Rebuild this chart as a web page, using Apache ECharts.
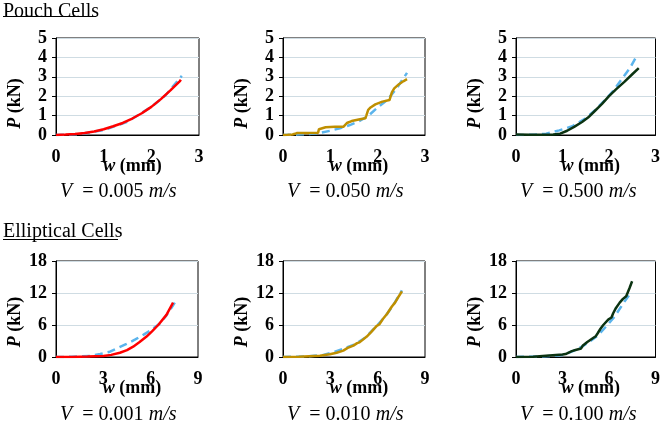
<!DOCTYPE html>
<html><head><meta charset="utf-8">
<script src="https://cdn.jsdelivr.net/npm/echarts@6/dist/echarts.min.js"></script>
<style>html,body{margin:0;padding:0;background:#fff}#c{width:663px;height:425px}</style>
</head><body><div id="c"></div>
<script>
// ---- data ----
const pouchXTicks = [0, 1, 2, 3];
const pouchYTicks = [0, 1, 2, 3, 4, 5];
const ellXTicks = [0, 3, 6, 9];
const ellYTicks = [0, 6, 12, 18];
const sectionTitles = ['Pouch Cells', 'Elliptical Cells'];
const velocities = ['0.005', '0.050', '0.500', '0.001', '0.010', '0.100'];

const expPouch1 = [[0,0],[0.2,0.02],[0.4,0.05],[0.6,0.1],[0.8,0.18],[1.0,0.3],[1.2,0.45],[1.4,0.62],[1.6,0.85],[1.8,1.12],[2.0,1.45],[2.2,1.85],[2.4,2.3],[2.6,2.78],[2.62,2.85]];
const modPouch1 = [[0,0],[0.5,0.05],[1.0,0.25],[1.5,0.68],[2.0,1.45],[2.3,2.05],[2.64,3.05]];
const expPouch2 = [[0,0],[0.1,0.01],[0.2,0.03],[0.25,0.06],[0.3,0.1],[0.5,0.1],[0.74,0.11],[0.76,0.3],[0.8,0.36],[0.9,0.4],[1.1,0.42],[1.28,0.43],[1.3,0.5],[1.35,0.62],[1.45,0.72],[1.6,0.8],[1.74,0.86],[1.76,1.0],[1.8,1.3],[1.85,1.42],[1.95,1.58],[2.1,1.72],[2.25,1.8],[2.28,1.85],[2.3,2.2],[2.35,2.4],[2.45,2.62],[2.55,2.78],[2.62,2.88]];
const modPouch2 = [[0,0],[0.3,0.02],[0.6,0.06],[0.8,0.12],[1.0,0.22],[1.2,0.35],[1.4,0.5],[1.6,0.7],[1.8,0.98],[2.0,1.42],[2.2,1.8],[2.4,2.4],[2.62,3.2]];
const expPouch3 = [[0,0.02],[0.3,0.01],[0.6,0.01],[0.8,0.02],[0.95,0.07],[1.1,0.22],[1.25,0.42],[1.42,0.67],[1.55,0.9],[1.7,1.25],[1.85,1.6],[2.0,2.0],[2.15,2.35],[2.33,2.74],[2.5,3.13],[2.64,3.45]];
const modPouch3 = [[0,0],[0.4,0.01],[0.65,0.07],[0.93,0.24],[1.21,0.45],[1.49,0.84],[1.7,1.28],[1.91,1.79],[2.1,2.3],[2.26,2.83],[2.45,3.45],[2.59,4.05]];
const expEll1 = [[0,0],[1,0.02],[2,0.08],[3,0.2],[3.5,0.4],[4.05,0.8],[4.5,1.3],[4.89,1.94],[5.3,2.8],[5.74,3.83],[6.1,4.85],[6.48,6.0],[7.0,7.9],[7.42,10.2]];
const modEll1 = [[0,0],[1,0.03],[2.15,0.19],[2.8,0.55],[3.42,1.0],[4.0,1.8],[4.47,2.45],[5.0,3.25],[5.53,4.14],[6.0,5.0],[6.58,6.3],[7.0,7.8],[7.53,10.2]];
const expEll2 = [[0,0],[1,0.05],[2.34,0.25],[2.97,0.5],[3.4,0.8],[3.82,1.2],[4.1,1.7],[4.46,2.13],[4.7,2.6],[4.85,2.75],[4.99,3.07],[5.31,3.83],[5.6,4.7],[5.94,5.83],[6.1,6.1],[6.37,7.28],[6.6,8.1],[6.9,9.47],[7.1,10.2],[7.3,11.2],[7.54,12.3]];
const modEll2 = [[0,0],[1.5,0.1],[2.5,0.35],[3.29,1.0],[3.8,1.5],[4.5,2.3],[5.2,3.6],[5.9,5.7],[6.5,7.7],[7.0,9.8],[7.54,12.5]];
const expEll3 = [[0,0],[1.1,0.06],[2.15,0.3],[3.0,0.45],[3.2,0.55],[3.3,0.8],[3.6,1.1],[3.84,1.3],[4.2,1.6],[4.3,2.1],[4.6,2.8],[5.0,3.6],[5.15,3.9],[5.27,4.45],[5.45,5.3],[5.63,6.0],[5.95,7.0],[6.16,7.4],[6.27,8.2],[6.45,9.2],[6.69,10.2],[6.9,10.9],[7.11,11.4],[7.2,11.5],[7.32,12.9],[7.49,14.2]];
const modEll3 = [[0,0],[1.5,0.08],[2.5,0.25],[3.0,0.38],[3.6,1.0],[4.26,1.94],[4.8,3.0],[5.32,4.14],[5.9,6.0],[6.37,7.6],[7.0,10.4],[7.32,11.7]];

// ---- layout & style ----
const expColors = ['#FF0000', '#BF8F00', '#0B3311', '#FF0000', '#BF8F00', '#0B3311'];
const modColor = '#5BB4EC';
const grids = [
  {left:56, top:38, width:143, height:97},
  {left:283, top:38, width:142, height:97},
  {left:516, top:38, width:141, height:97},
  {left:56, top:261, width:142, height:96},
  {left:283, top:261, width:142, height:96},
  {left:516, top:261, width:141, height:96}
];
const expData = [expPouch1, expPouch2, expPouch3, expEll1, expEll2, expEll3];
const modData = [modPouch1, modPouch2, modPouch3, modEll1, modEll2, modEll3];
const serif = 'Liberation Serif';

const xAxes = [], yAxes = [], series = [], graphics = [];
grids.forEach((g, i) => {
  const pouch = i < 3;
  const xt = pouch ? pouchXTicks : ellXTicks;
  const yt = pouch ? pouchYTicks : ellYTicks;
  xAxes.push({
    gridIndex: i, type: 'value', min: xt[0], max: xt[xt.length-1], interval: xt[1]-xt[0],
    axisLine: {show: true, lineStyle: {color: '#000', width: 1}},
    axisTick: {show: false}, splitLine: {show: false},
    axisLabel: {margin: 13, fontFamily: serif, fontWeight: 'bold', fontSize: 18, color: '#000'},
    name: '{i|w} (mm)', nameLocation: 'middle', nameGap: 22, nameMoveOverlap: false,
    nameTextStyle: {fontFamily: serif, fontWeight: 'bold', fontSize: 18, color: '#000', padding: [0,0,0,10],
      rich: {i: {fontFamily: serif, fontWeight: 'bold', fontStyle: 'italic', fontSize: 18, color: '#000'}}}
  });
  yAxes.push({
    gridIndex: i, type: 'value', min: yt[0], max: yt[yt.length-1], interval: yt[1]-yt[0],
    axisLine: {show: true, lineStyle: {color: '#000', width: 1}},
    axisTick: {show: true, inside: false, length: 4, lineStyle: {color: '#000'}},
    splitLine: {show: true, lineStyle: {color: '#CFDCE3', width: 1}},
    axisLabel: {margin: 9, fontFamily: serif, fontWeight: 'bold', fontSize: 18, color: '#000'},
    name: '{i|P} (kN)', nameLocation: 'middle', nameGap: 32, nameRotate: 90, nameMoveOverlap: false,
    nameTextStyle: {fontFamily: serif, fontWeight: 'bold', fontSize: 18, color: '#000', padding: [0, pouch ? 34 : 26, 0, 0],
      rich: {i: {fontFamily: serif, fontWeight: 'bold', fontStyle: 'italic', fontSize: 18, color: '#000'}}}
  });
  series.push({
    type: 'line', xAxisIndex: i, yAxisIndex: i, data: modData[i], showSymbol: false, symbol: 'none',
    lineStyle: {color: modColor, width: 2.5, type: [8, 5]}, z: 2, animation: false
  });
  series.push({
    type: 'line', xAxisIndex: i, yAxisIndex: i, data: expData[i], showSymbol: false, symbol: 'none',
    lineStyle: {color: expColors[i], width: 2.5}, z: 3, animation: false
  });
  // caption
  graphics.push({
    type: 'text', left: g.left + 4, top: pouch ? 182 : 405,
    style: {
      text: '{v|V}{r|= 0.' + velocities[i].slice(2) + '} {i|m/s}',
      rich: {
        v: {fontFamily: serif, fontStyle: 'italic', fontSize: 20, fill: '#000', padding: [0, 10, 0, 0]},
        i: {fontFamily: serif, fontStyle: 'italic', fontSize: 20, fill: '#000', padding: [0, 0, 0, 2]},
        r: {fontFamily: serif, fontSize: 20, fill: '#000'}
      }
    }
  });
});

// section titles with underline
[[3, 2, 0], [3, 222, 1]].forEach(([x, y, k]) => {
  graphics.push({type: 'text', left: x, top: y, style: {text: sectionTitles[k], font: '20px "Liberation Serif"', fill: '#000'}});
});
graphics.push({type: 'line', shape: {x1: 3, y1: 16.5, x2: 96, y2: 16.5}, style: {stroke: '#000', lineWidth: 1}});
graphics.push({type: 'line', shape: {x1: 3, y1: 239.5, x2: 118, y2: 239.5}, style: {stroke: '#000', lineWidth: 1}});

const chart = echarts.init(document.getElementById('c'), null, {renderer: 'canvas'});
chart.setOption({
  animation: false,
  backgroundColor: '#fff',
  grid: grids.map(g => Object.assign({show: true, borderColor: '#000', borderWidth: 1, backgroundColor: 'transparent'}, g)),
  xAxis: xAxes, yAxis: yAxes, series: series, graphic: graphics
});
</script></body></html>
